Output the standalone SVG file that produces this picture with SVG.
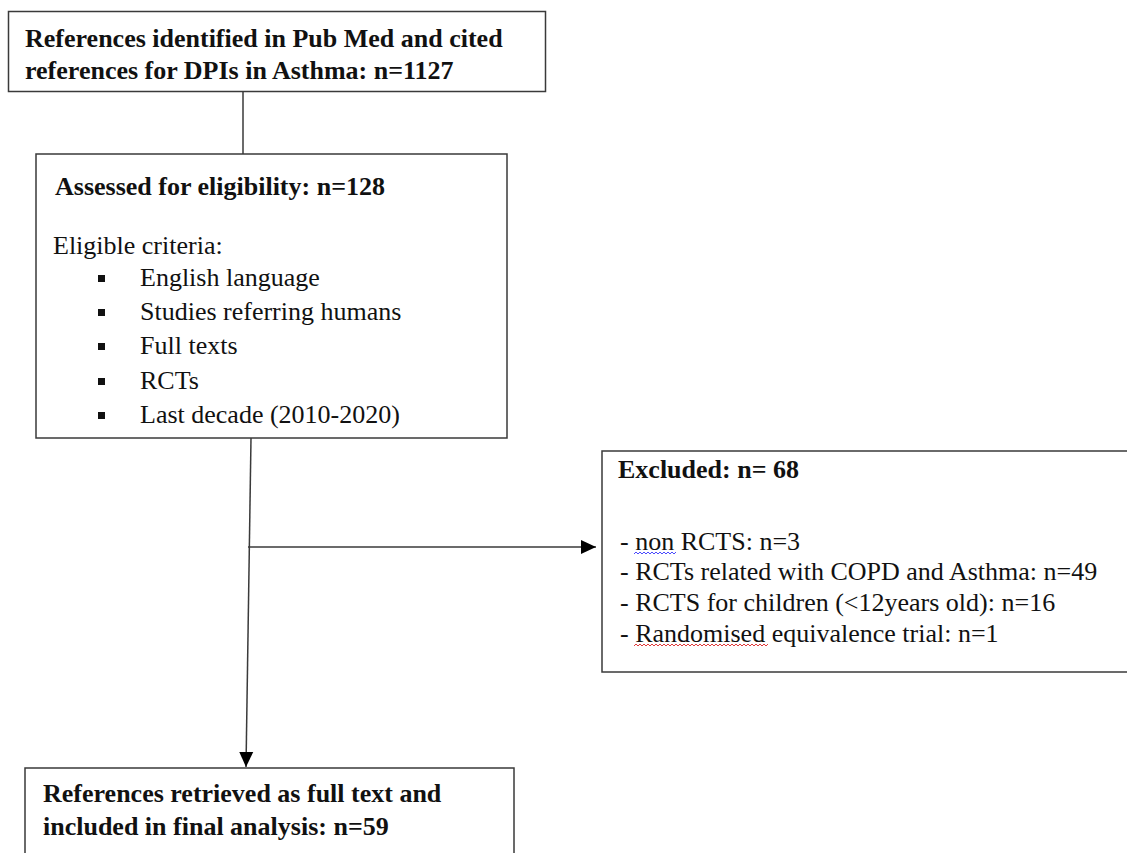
<svg xmlns="http://www.w3.org/2000/svg" width="1127" height="853" viewBox="0 0 1127 853">
<style>
.box{fill:#fff;stroke:#3a3a3a;stroke-width:1.5}
.b{font-family:"Liberation Serif","Times New Roman",serif;font-size:26px;font-weight:bold;fill:#111}
.t{font-family:"Liberation Serif","Times New Roman",serif;font-size:26px;fill:#111}
.ln{fill:none;stroke:#3a3a3a;stroke-width:1.5}
.bul{fill:#111}
</style>
<defs>
<marker id="ah" markerUnits="userSpaceOnUse" markerWidth="16" markerHeight="16" viewBox="0 0 16 16" refX="15" refY="8" orient="auto">
<path d="M0,1 L15,8 L0,15 Z" fill="#000"/>
</marker>
</defs>
<rect width="1127" height="853" fill="#fff"/>
<g id="connectors">
<line class="ln" x1="243" y1="91" x2="243" y2="154"/>
<line class="ln" x1="251" y1="438" x2="246" y2="767" marker-end="url(#ah)"/>
<line class="ln" x1="248" y1="547" x2="596" y2="547" marker-end="url(#ah)"/>
</g>
<g id="identified">
<rect class="box" x="8.5" y="11.5" width="537" height="80"/>
<text class="b" x="25" y="47">References identified in Pub Med and cited</text>
<text class="b" x="25" y="79">references for DPIs in Asthma: n=1127</text>
</g>
<g id="assessed">
<rect class="box" x="36" y="154" width="471" height="284"/>
<text class="b" x="55" y="195">Assessed for eligibility: n=128</text>
<text class="t" x="53" y="254">Eligible criteria:</text>
<rect class="bul" x="98" y="275" width="7" height="7"/>
<text class="t" x="140" y="286">English language</text>
<rect class="bul" x="98" y="309" width="7" height="7"/>
<text class="t" x="140" y="320">Studies referring humans</text>
<rect class="bul" x="98" y="343" width="7" height="7"/>
<text class="t" x="140" y="354">Full texts</text>
<rect class="bul" x="98" y="378" width="7" height="7"/>
<text class="t" x="140" y="389">RCTs</text>
<rect class="bul" x="98" y="412" width="7" height="7"/>
<text class="t" x="140" y="423">Last decade (2010-2020)</text>
</g>
<g id="excluded">
<rect class="box" x="602" y="451" width="530" height="221"/>
<text class="b" x="618" y="478">Excluded: n= 68</text>
<text class="t" x="620" y="550">- non RCTS: n=3</text>
<text class="t" x="620" y="580">- RCTs related with COPD and Asthma: n=49</text>
<text class="t" x="620" y="611">- RCTS for children (&lt;12years old): n=16</text>
<text class="t" x="620" y="642">- Randomised equivalence trial: n=1</text>
<path d="M634,554 l2,-2 l2,2 l2,-2 l2,2 l2,-2 l2,2 l2,-2 l2,2 l2,-2 l2,2 l2,-2 l2,2 l2,-2 l2,2 l2,-2 l2,2 l2,-2 l2,2 l2,-2 l2,2 l2,-2" fill="none" stroke="#4a4aff" stroke-width="1"/>
<path d="M634,646 l2,-2 l2,2 l2,-2 l2,2 l2,-2 l2,2 l2,-2 l2,2 l2,-2 l2,2 l2,-2 l2,2 l2,-2 l2,2 l2,-2 l2,2 l2,-2 l2,2 l2,-2 l2,2 l2,-2 l2,2 l2,-2 l2,2 l2,-2 l2,2 l2,-2 l2,2 l2,-2 l2,2 l2,-2 l2,2 l2,-2 l2,2 l2,-2 l2,2 l2,-2 l2,2 l2,-2 l2,2 l2,-2 l2,2 l2,-2 l2,2 l2,-2 l2,2 l2,-2 l2,2 l2,-2 l2,2 l2,-2 l2,2 l2,-2 l2,2 l2,-2 l2,2 l2,-2 l2,2 l2,-2 l2,2 l2,-2 l2,2 l2,-2 l2,2 l2,-2 l2,2 l2,-2" fill="none" stroke="#e03a3a" stroke-width="1"/>
</g>
<g id="included">
<rect class="box" x="25" y="768" width="489" height="100"/>
<text class="b" x="43" y="802">References retrieved as full text and</text>
<text class="b" x="43" y="835">included in final analysis: n=59</text>
</g>
</svg>
